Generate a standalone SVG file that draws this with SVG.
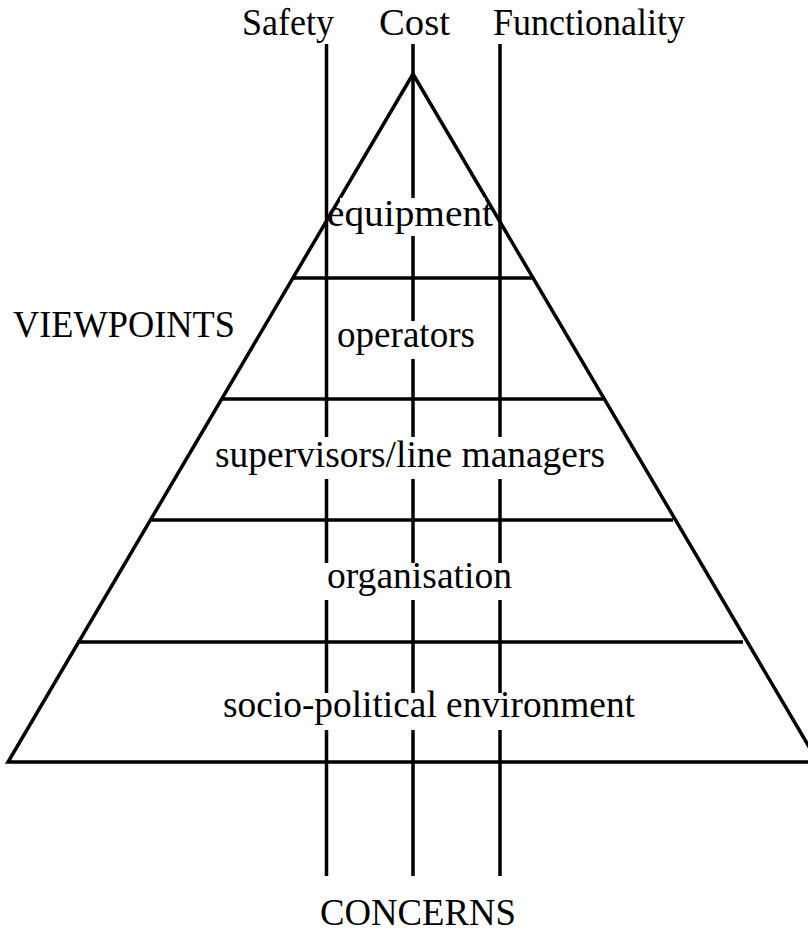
<svg xmlns="http://www.w3.org/2000/svg" width="808" height="932" viewBox="0 0 808 932">
<style>
.ln{stroke:#000;stroke-width:3.5;fill:none}
.t{font-family:"Liberation Serif","Times New Roman",serif;font-size:37px;fill:#000}
.bg{fill:#fff}
</style>
<rect width="808" height="932" fill="#fff"/>
<g id="connectors">
<line class="ln" x1="326.5" y1="44" x2="326.5" y2="876"/>
<line class="ln" x1="413" y1="44" x2="413" y2="876"/>
<line class="ln" x1="500" y1="44" x2="500" y2="876"/>
</g>
<g id="pyramid">
<polygon class="ln" points="413,74 8,762 818,762"/>
<line class="ln" x1="292" y1="278" x2="532" y2="278"/>
<line class="ln" x1="221" y1="399" x2="603" y2="399"/>
<line class="ln" x1="150" y1="520" x2="673" y2="520"/>
<line class="ln" x1="77" y1="642" x2="743" y2="642"/>
</g>
<g id="concern-safety"><text class="t" x="242" y="35" textLength="92" lengthAdjust="spacingAndGlyphs">Safety</text></g>
<g id="concern-cost"><text class="t" x="379" y="35" textLength="71" lengthAdjust="spacingAndGlyphs">Cost</text></g>
<g id="concern-functionality"><text class="t" x="493" y="35" textLength="192" lengthAdjust="spacingAndGlyphs">Functionality</text></g>
<g id="layer-equipment">
<rect class="bg" x="340" y="198" width="145" height="38"/>
<text class="t" x="327" y="226" textLength="166" lengthAdjust="spacingAndGlyphs">equipment</text>
</g>
<g id="label-viewpoints"><text class="t" x="13" y="337" textLength="222" lengthAdjust="spacingAndGlyphs">VIEWPOINTS</text></g>
<g id="layer-operators">
<rect class="bg" x="335" y="321" width="143" height="38"/>
<text class="t" x="337" y="347" textLength="138" lengthAdjust="spacingAndGlyphs">operators</text>
</g>
<g id="layer-supervisors">
<rect class="bg" x="213" y="437" width="395" height="42"/>
<text class="t" x="215" y="467" textLength="390" lengthAdjust="spacingAndGlyphs">supervisors/line managers</text>
</g>
<g id="layer-organisation">
<rect class="bg" x="324" y="563" width="191" height="37"/>
<text class="t" x="327" y="588" textLength="185" lengthAdjust="spacingAndGlyphs">organisation</text>
</g>
<g id="layer-socio-political">
<rect class="bg" x="220" y="693" width="418" height="37"/>
<text class="t" x="223" y="717" textLength="412" lengthAdjust="spacingAndGlyphs">socio-political environment</text>
</g>
<g id="label-concerns"><text class="t" x="320" y="925" textLength="196" lengthAdjust="spacingAndGlyphs">CONCERNS</text></g>
</svg>
